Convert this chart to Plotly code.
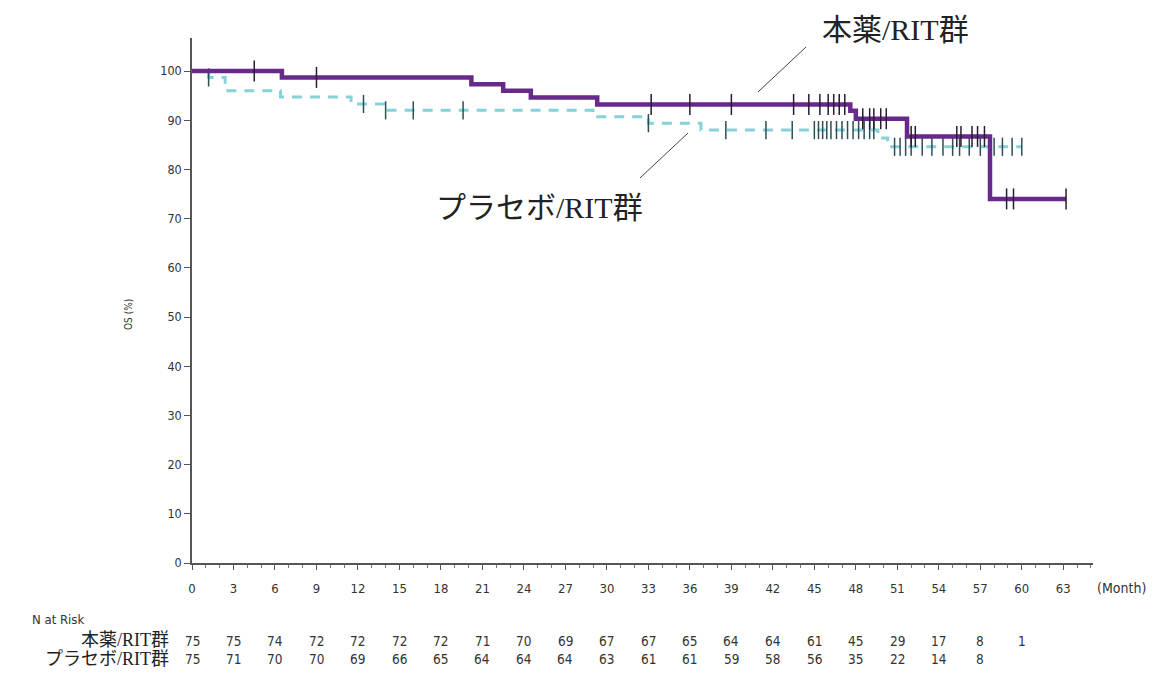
import plotly.graph_objects as go

# ---------------- data ----------------
# 本薬/RIT群 (purple, solid) KM steps
drug_t = [0, 6.5, 20.2, 22.5, 24.5, 29.3, 47.6, 48.0, 51.7, 57.7]
drug_s = [100, 98.7, 97.3, 96.0, 94.6, 93.2, 91.9, 90.3, 86.7, 74.0]
drug_end = 63.2
drug_cens = [4.5, 9.0, 33.2, 36.0, 39.0, 43.5, 44.6, 45.4, 46.0, 46.4, 46.8, 47.2,
             48.5, 49.0, 49.3, 49.8, 50.2, 52.0, 52.3, 55.3, 55.6, 56.4, 56.8, 57.3,
             58.9, 59.4, 63.2]

# プラセボ/RIT群 (cyan, dashed) KM steps
plac_t = [0, 1.2, 2.4, 6.4, 11.5, 13.9, 29.0, 33.0, 36.8, 49.6, 50.3]
plac_s = [100, 98.7, 96.0, 94.7, 93.3, 92.0, 90.7, 89.4, 88.0, 86.4, 84.6]
plac_end = 60.0
plac_cens = [1.2, 12.4, 14.0, 16.0, 19.6, 33.0, 38.6, 41.5, 43.4, 45.0, 45.3, 45.6,
             45.9, 46.2, 46.6, 47.0, 47.4, 47.8, 48.2, 48.6, 49.0, 49.3, 50.8, 51.2,
             51.6, 52.0, 52.8, 53.5, 54.3, 55.0, 55.5, 56.2, 57.0, 58.0, 58.6, 59.3, 60.0]

risk_times = [0, 3, 6, 9, 12, 15, 18, 21, 24, 27, 30, 33, 36, 39, 42, 45, 48, 51, 54, 57, 60]
risk_drug = [75, 75, 74, 72, 72, 72, 72, 71, 70, 69, 67, 67, 65, 64, 64, 61, 45, 29, 17, 8, 1]
risk_plac = [75, 71, 70, 70, 69, 66, 65, 64, 64, 64, 63, 61, 61, 59, 58, 56, 35, 22, 14, 8]

x_ticks = list(range(0, 64, 3))
y_ticks = list(range(0, 101, 10))

drug_label = "本薬/RIT群"
plac_label = "プラセボ/RIT群"

# ---------------- helpers ----------------
def step_at(ts, ss, t):
    v = ss[0]
    for ti, si in zip(ts, ss):
        if ti <= t:
            v = si
    return v

PURPLE = "#672a8b"
CYAN = "#86d2d8"
SERIF = "'Liberation Serif', 'Times New Roman', 'Noto Sans CJK JP', serif"
SANS = "'DejaVu Sans', sans-serif"
SANSC = "'DejaVu Sans Condensed', 'DejaVu Sans', sans-serif"
TXT = "#333333"

fig = go.Figure()

fig.add_trace(go.Scatter(
    x=plac_t + [plac_end], y=plac_s + [plac_s[-1]], mode="lines", line_shape="hv",
    line=dict(color=CYAN, width=3, dash="10px,8px"), showlegend=False, hoverinfo="skip"))
fig.add_trace(go.Scatter(
    x=plac_cens, y=[step_at(plac_t, plac_s, t) for t in plac_cens], mode="markers",
    marker=dict(symbol="line-ns", size=13, line=dict(color="#2c4f55", width=1.5)),
    showlegend=False))

fig.add_trace(go.Scatter(
    x=drug_t + [drug_end], y=drug_s + [drug_s[-1]], mode="lines", line_shape="hv",
    line=dict(color=PURPLE, width=4.5), showlegend=False, hoverinfo="skip"))
fig.add_trace(go.Scatter(
    x=drug_cens, y=[step_at(drug_t, drug_s, t) for t in drug_cens], mode="markers",
    marker=dict(symbol="line-ns", size=15, line=dict(color="#2a1a33", width=1.5)),
    showlegend=False))

# page has an 8px body margin; target screen plot area: left 192, right 1093, top 38, bottom 563
OFF = 8
W, H = 1166 - 2 * OFF, 677 - 2 * OFF
SL, SR, ST, SB = 192, 1093, 38, 563
L = SL - OFF
T = ST - OFF
R = W - (SR - OFF)
B = H - (SB - OFF)
PW = SR - SL
PH = SB - ST

def py(ypx):
    return (SB - ypx) / PH

def px(xpx):
    return (xpx - SL) / PW

def note(xv, yv, text, size, family, xanchor="center", xref="paper", angle=0, color=TXT):
    return dict(x=xv, y=yv, xref=xref, yref="paper", text=text, showarrow=False,
                xanchor=xanchor, yanchor="middle", textangle=angle,
                font=dict(family=family, size=size, color=color))

ann = [
    note(px(895), py(29), drug_label, 30, SERIF, color="#222"),
    note(px(539), py(208), plac_label, 30, SERIF, color="#222"),
    note(px(128), py(315), "OS (%)", 10, SANSC, angle=-90),
    note(px(1095), py(588), "(Month)", 14, SANSC, xanchor="left"),
    note(px(30), py(619), "N at Risk", 13, SANSC, xanchor="left"),
    note(px(171), py(640), drug_label, 18, SERIF, xanchor="right", color="#222"),
    note(px(171), py(659), plac_label, 18, SERIF, xanchor="right", color="#222"),
]
for t, n in zip(risk_times, risk_drug):
    ann.append(note(t, py(641), str(n), 13.5, SANSC, xref="x"))
for t, n in zip(risk_times, risk_plac):
    ann.append(note(t, py(659), str(n), 13.5, SANSC, xref="x"))

shapes = [
    dict(type="line", xref="paper", yref="paper", x0=px(758), y0=py(92), x1=px(806), y1=py(47),
         line=dict(color="#444", width=1)),
    dict(type="line", xref="paper", yref="paper", x0=px(688), y0=py(133), x1=px(640), y1=py(178),
         line=dict(color="#444", width=1)),
]

fig.update_layout(
    width=W, height=H, margin=dict(l=L, r=R, t=T, b=B),
    paper_bgcolor="white", plot_bgcolor="white",
    annotations=ann, shapes=shapes, showlegend=False,
    xaxis=dict(range=[0, PW / 13.83], tickvals=x_ticks, ticks="outside", ticklen=5,
               tickwidth=1, tickcolor="#555", showline=True, linecolor="#555", linewidth=1.5,
               showgrid=False, zeroline=False, ticklabelstandoff=8,
               tickfont=dict(family=SANSC, size=13, color=TXT),
               minor=dict(dtick=1, tick0=0, ticks="outside", ticklen=3, tickcolor="#777", showgrid=False)),
    yaxis=dict(range=[0, PH / 4.92], tickvals=y_ticks, ticks="outside", ticklen=6,
               tickwidth=1, tickcolor="#555", showline=True, linecolor="#555", linewidth=1.5,
               showgrid=False, zeroline=False,
               tickfont=dict(family=SANSC, size=12.5, color=TXT)),
)

fig.write_html("out.html")
